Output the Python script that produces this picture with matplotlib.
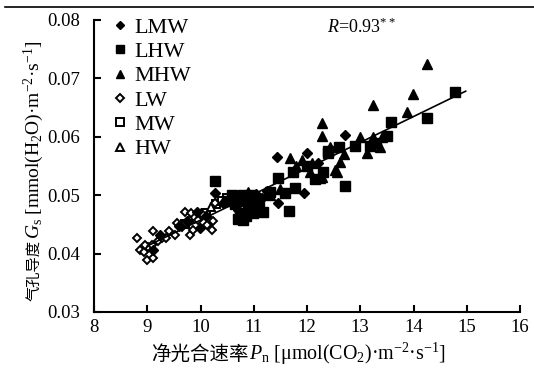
import numpy as np
import matplotlib
matplotlib.use("Agg")
import matplotlib.pyplot as plt
from matplotlib.lines import Line2D

plt.rcParams['font.family'] = ['Liberation Serif', 'Noto Sans CJK SC']
plt.rcParams['mathtext.fontset'] = 'custom'
plt.rcParams['mathtext.rm'] = 'Liberation Serif'
plt.rcParams['mathtext.it'] = 'Liberation Serif:italic'

# ---- data ----
lmw_x = [9.11, 9.24, 9.74, 9.93, 9.99, 10.27, 10.43, 10.62, 10.85, 11.05, 11.25, 11.46,
         11.95, 11.43, 12.00, 12.71, 12.20, 11.15, 10.70, 9.60, 10.10]
lmw_y = [0.0406, 0.0432, 0.0455, 0.0472, 0.0444, 0.0504, 0.0487, 0.0490, 0.0497, 0.0502,
         0.0508, 0.0486, 0.0504, 0.0566, 0.0572, 0.0603, 0.0555, 0.0495, 0.0475, 0.0448, 0.0465]

lhw_x = [10.27, 10.59, 10.80, 10.99, 11.18, 11.66, 11.59, 11.77, 11.74, 12.71, 12.15, 11.46,
         12.40, 14.78, 14.25, 13.58, 13.50, 13.18, 12.90, 12.39, 10.70, 10.80, 10.90, 10.75,
         10.85, 11.00, 10.65, 10.95, 11.10, 10.80, 10.70, 11.30, 12.00, 12.60, 13.30, 12.30, 10.50]
lhw_y = [0.0525, 0.0501, 0.0458, 0.0470, 0.0472, 0.0473, 0.0504, 0.0513, 0.0540, 0.0515,
         0.0527, 0.0530, 0.0572, 0.0676, 0.0633, 0.0626, 0.0602, 0.0584, 0.0584, 0.0575,
         0.0495, 0.0490, 0.0480, 0.0470, 0.0465, 0.0490, 0.0485, 0.0500, 0.0485, 0.0500,
         0.0460, 0.0505, 0.0550, 0.0583, 0.0590, 0.0540, 0.0490]

mhw_x = [14.25, 13.99, 13.24, 13.87, 12.28, 12.28, 12.99, 13.24, 13.37, 13.12, 12.43, 12.62,
         11.68, 12.06, 12.24, 12.53, 11.31, 11.25, 12.56, 11.50, 11.80, 11.90, 12.10, 11.00,
         10.90, 12.70, 13.40, 12.28]
mhw_y = [0.0725, 0.0674, 0.0655, 0.0643, 0.0624, 0.0602, 0.0600, 0.0600, 0.0583, 0.0573,
         0.0583, 0.0556, 0.0564, 0.0540, 0.0530, 0.0544, 0.0501, 0.0504, 0.0540, 0.0510,
         0.0550, 0.0560, 0.0555, 0.0490, 0.0505, 0.0570, 0.0600, 0.0532]

lw_x = [8.80, 8.86, 8.93, 8.99, 9.11, 9.02, 9.11, 9.21, 9.27, 9.36, 9.40, 9.52, 9.55, 9.65,
        9.71, 9.80, 9.83, 9.96, 10.05, 10.12, 10.21, 10.24, 10.27, 9.86, 9.08, 8.96]
lw_y = [0.0426, 0.0406, 0.0403, 0.0389, 0.0392, 0.0412, 0.0438, 0.0421, 0.0426, 0.0426,
        0.0438, 0.0432, 0.0452, 0.0446, 0.0472, 0.0432, 0.0469, 0.0458, 0.0466, 0.0449,
        0.0441, 0.0455, 0.0486, 0.0441, 0.0415, 0.0415]

mw_x = [9.90, 10.10, 10.30, 10.40, 9.70, 10.50]
mw_y = [0.0465, 0.0470, 0.0485, 0.0490, 0.0450, 0.0495]

hw_x = [9.80, 10.00, 10.20, 10.45, 10.60]
hw_y = [0.0460, 0.0470, 0.0480, 0.0490, 0.0500]

x_ticks = [8, 9, 10, 11, 12, 13, 14, 15, 16]
y_ticks = [0.03, 0.04, 0.05, 0.06, 0.07, 0.08]
r_text = "$R$=0.93$^{**}$"
xlabel_cn = "净光合速率"
xlabel_rest = "$P_\\mathrm{n}$ [μmol(CO$_2$)·m$^{-2}$·s$^{-1}$]"
ylabel_cn = "气孔导度"
ylabel_rest = "$G_\\mathrm{s}$ [mmol(H$_2$O)·m$^{-2}$·s$^{-1}$]"

# ---- figure ----
W, H = 534, 370
fig = plt.figure(figsize=(W / 100, H / 100), dpi=100)
ax = fig.add_axes([94 / W, 1 - 312 / H, 426 / W, 292 / H])

open_kw = dict(color='none', markerfacecolor='white', markeredgecolor='black',
               markeredgewidth=1.4, linestyle='none')
fill_kw = dict(color='black', linestyle='none')

# name, x, y, marker, plot size, legend size, style, zorder
series = [
    ("LMW", lmw_x, lmw_y, 'D', 5.0, 4.0, fill_kw, 4),
    ("LHW", lhw_x, lhw_y, 's', 6.5, 5.6, fill_kw, 4),
    ("MHW", mhw_x, mhw_y, '^', 6.8, 5.8, fill_kw, 4),
    ("LW", lw_x, lw_y, 'D', 4.2, 4.0, open_kw, 3),
    ("MW", mw_x, mw_y, 's', 5.2, 5.2, open_kw, 2),
    ("HW", hw_x, hw_y, '^', 6.0, 6.0, open_kw, 2),
]
handles = []
for name, xs, ys, mk, ms, lms, kw, z in series:
    ax.plot(xs, ys, marker=mk, markersize=ms, zorder=z, **kw)
    handles.append(Line2D([], [], marker=mk, markersize=lms, label=name, **kw))

# regression line
all_x = np.concatenate([lmw_x, lhw_x, mhw_x, lw_x, mw_x, hw_x])
all_y = np.concatenate([lmw_y, lhw_y, mhw_y, lw_y, mw_y, hw_y])
k, b = np.polyfit(all_x, all_y, 1)
lx = np.array([all_x.min() + 0.2, all_x.max() + 0.2])
ax.plot(lx, k * lx + b, color='black', linewidth=1.2, zorder=5)

ax.set_xlim(8, 16)
ax.set_ylim(0.03, 0.08)
ax.set_xticks(x_ticks)
ax.set_yticks(y_ticks)
ax.set_xticklabels([str(t) for t in x_ticks])
ax.set_yticklabels([f"{t:.2f}" for t in y_ticks])
for s in ['top', 'right']:
    ax.spines[s].set_visible(False)
for s in ['left', 'bottom']:
    ax.spines[s].set_linewidth(1.5)
ax.tick_params(direction='in', length=5, width=1.5, labelsize=13.5)
ax.tick_params(axis='x', pad=5)
ax.tick_params(axis='y', pad=10)

ax.text(12.37, 0.0787, r_text, fontsize=13, ha='left', va='center')

ax.legend(handles=handles, loc='upper left', frameon=False, fontsize=16,
          handlelength=0.6, handletextpad=0.35, labelspacing=0.17,
          borderaxespad=0.0, bbox_to_anchor=(0.025, 1.04))

fig.add_artist(Line2D([0.01, 1.0], [0.981, 0.981], color='black', linewidth=1.2,
                      transform=fig.transFigure))

# ---- composite axis labels (CJK part + serif/math part) ----
cn_font = ['Noto Sans CJK SC']
fig.canvas.draw()
r = fig.canvas.get_renderer()

# x label: centre at px 298, baseline at px 360 from top
xa = fig.text(0, 1 - 360 / H, xlabel_cn, family=cn_font, fontsize=14,
              ha='left', va='baseline')
xb = fig.text(0, 1 - 360 / H, xlabel_rest, fontsize=14.4, ha='left', va='baseline')
wa = xa.get_window_extent(r).width
wb = xb.get_window_extent(r).width
x0 = 298 - (wa + wb) / 2
xa.set_x(x0 / W)
xb.set_x((x0 + wa + 1) / W)

# y label: rotated, baseline at px 39 from left, centred at px 171 from top
ya = fig.text(39 / W, 0, ylabel_cn, family=cn_font, fontsize=11, rotation=90,
              rotation_mode='anchor', ha='left', va='baseline')
yb = fig.text(39 / W, 0, ylabel_rest, fontsize=14, rotation=90,
              rotation_mode='anchor', ha='left', va='baseline')
ha_ = ya.get_window_extent(r).height
hb_ = yb.get_window_extent(r).height
yc = H - 171
y0 = yc - (ha_ + hb_) / 2
ya.set_y(y0 / H)
yb.set_y((y0 + ha_ + 1) / H)

fig.savefig("out.png", dpi=100)
